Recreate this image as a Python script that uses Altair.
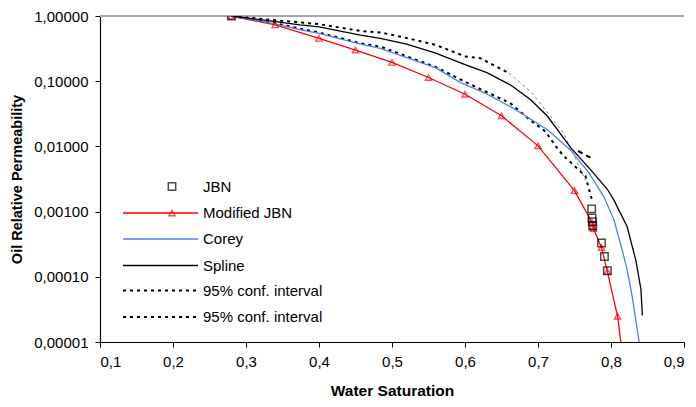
import altair as alt
import pandas as pd

# ---- data ----
jbn_sw = [0.28, 0.7735, 0.774, 0.7745, 0.775, 0.787, 0.791, 0.795]
jbn_kr = [1.0, 0.0011, 0.0008, 0.0007, 0.0006, 0.00033, 0.000205, 0.000124]

mod_sw = [0.28, 0.34, 0.40, 0.45, 0.50, 0.55, 0.60, 0.65, 0.70, 0.75, 0.774, 0.775, 0.776, 0.787, 0.795, 0.809, 0.8135]
mod_kr = [1.0, 0.73, 0.455, 0.30, 0.195, 0.114, 0.063, 0.0295, 0.0102, 0.0021, 0.00068, 0.00060, 0.00055, 0.00028, 0.000121, 0.0000248, 0.00001]
mod_marker = [True] * 16 + [False]

corey_sw = [0.28, 0.33, 0.374, 0.40, 0.457, 0.484, 0.525, 0.56, 0.594, 0.626, 0.667, 0.713, 0.744, 0.77, 0.79, 0.804, 0.816, 0.822, 0.829, 0.8385]
corey_kr = [1.0, 0.80, 0.62, 0.54, 0.37, 0.32, 0.22, 0.16, 0.095, 0.067, 0.038, 0.018, 0.0089, 0.0039, 0.0017, 0.00075, 0.00024, 0.00013, 0.00005, 0.00001]

spline_sw = [0.28, 0.33, 0.374, 0.40, 0.457, 0.484, 0.52, 0.56, 0.60, 0.63, 0.662, 0.69, 0.713, 0.745, 0.772, 0.795, 0.804, 0.822, 0.834, 0.841, 0.843]
spline_kr = [1.0, 0.85, 0.73, 0.68, 0.51, 0.455, 0.37, 0.27, 0.18, 0.135, 0.088, 0.052, 0.029, 0.0095, 0.0044, 0.0022, 0.0015, 0.00059, 0.00018, 0.000064, 0.0000255]

upper_sw = [0.28, 0.33, 0.374, 0.40, 0.457, 0.484, 0.52, 0.56, 0.60, 0.621, 0.66]
upper_kr = [1.0, 0.88, 0.80, 0.75, 0.59, 0.56, 0.46, 0.36, 0.24, 0.225, 0.133]
upper_tail_sw = [0.66, 0.69, 0.717, 0.735, 0.749, 0.76, 0.765]
upper_tail_kr = [0.133, 0.07, 0.029, 0.016, 0.0075, 0.004, 0.003]
upper_end_sw = [0.755, 0.773]
upper_end_kr = [0.0085, 0.0066]

lower_sw = [0.28, 0.33, 0.374, 0.40, 0.457, 0.484, 0.525, 0.56, 0.60, 0.625, 0.662, 0.69, 0.71, 0.726, 0.735, 0.75, 0.765, 0.769, 0.774]
lower_kr = [1.0, 0.82, 0.64, 0.56, 0.38, 0.34, 0.23, 0.165, 0.098, 0.072, 0.046, 0.025, 0.017, 0.0095, 0.0072, 0.005, 0.0035, 0.0024, 0.0015]

x_ticks = [0.1, 0.2, 0.3, 0.4, 0.5, 0.6, 0.7, 0.8, 0.9]
y_ticks = [0.00001, 0.0001, 0.001, 0.01, 0.1, 1.0]

legend_labels = ["JBN", "Modified JBN", "Corey", "Spline", "95% conf. interval", "95% conf. interval"]

FONT = "Liberation Sans"
W, H = 584, 326

xs = alt.Scale(domain=[0.1, 0.9], nice=False, zero=False)
ys = alt.Scale(type="log", domain=[0.00001, 1.0], nice=False)

xax = alt.Axis(values=x_ticks, labelExpr="replace(format(datum.value, '.1f'), '.', ',')",
               title="Water Saturation", grid=False, domainColor="black", tickColor="black",
               tickSize=5, labelFontSize=15, titleFontSize=15.5, labelFont=FONT, titleFont=FONT,
               titleFontWeight="bold", labelColor="black", titleColor="black", labelPadding=7,
               titlePadding=14, domainWidth=1.2)
yax = alt.Axis(values=y_ticks, labelExpr="replace(format(datum.value, '.5f'), '.', ',')",
               title="Oil Relative Permeability", grid=False, domainColor="black", tickColor="black",
               tickSize=5, labelFontSize=15, titleFontSize=14.5, labelFont=FONT, titleFont=FONT,
               titleFontWeight="bold", labelColor="black", titleColor="black", labelPadding=7,
               titlePadding=9, domainWidth=1.2)


def df(sw, kr):
    return pd.DataFrame({"sw": sw, "kr": kr})


def enc(ch, axes=False):
    if axes:
        return ch.encode(x=alt.X("sw:Q", scale=xs, axis=xax), y=alt.Y("kr:Q", scale=ys, axis=yax))
    return ch.encode(x=alt.X("sw:Q", scale=xs), y=alt.Y("kr:Q", scale=ys))


top_rule = alt.Chart(pd.DataFrame({"v": [1.0]})).mark_rule(color="#a6a6a6", strokeWidth=2).encode(
    y=alt.Y("v:Q", scale=ys))

upper = enc(alt.Chart(df(upper_sw, upper_kr)).mark_line(color="black", strokeWidth=2, strokeDash=[3, 4], clip=True))
upper_tail = enc(alt.Chart(df(upper_tail_sw, upper_tail_kr)).mark_line(color="#8c8c8c", strokeWidth=1, strokeDash=[3, 3], clip=True))
upper_end = enc(alt.Chart(df(upper_end_sw, upper_end_kr)).mark_line(color="black", strokeWidth=2, strokeDash=[5, 4], clip=True))
lower = enc(alt.Chart(df(lower_sw, lower_kr)).mark_line(color="black", strokeWidth=2, strokeDash=[3, 4], clip=True))
corey = enc(alt.Chart(df(corey_sw, corey_kr)).mark_line(color="#4f7ff0", strokeWidth=1.3, clip=True))
spline = enc(alt.Chart(df(spline_sw, spline_kr)).mark_line(color="black", strokeWidth=1.3, clip=True))
mod_line = enc(alt.Chart(df(mod_sw, mod_kr)).mark_line(color="#ff0000", strokeWidth=1.3, clip=True), axes=True)
mdf = df(mod_sw, mod_kr)
mdf["m"] = mod_marker
mod_pts = enc(alt.Chart(mdf[mdf["m"]]).mark_point(shape="triangle-up", filled=False, color="#ff0000",
                                                  size=40, strokeWidth=1.3, clip=True))
jbn_pts = enc(alt.Chart(df(jbn_sw, jbn_kr)).mark_point(shape="square", filled=False, color="black",
                                                       size=55, strokeWidth=1.5, clip=True))

# ---- manual legend (pixel positions within plot area) ----
one = pd.DataFrame({"a": [0]})
leg_y = [170.5, 197, 223, 249.5, 274.5, 301]
lx1, lx2, lmk, ltx = 23, 98, 72, 103
leg_layers = []
for i, lab in enumerate(legend_labels):
    yy = leg_y[i]
    if i == 1:
        leg_layers.append(alt.Chart(one).mark_rule(color="#ff0000", strokeWidth=1.3).encode(
            x=alt.value(lx1), x2=alt.value(lx2), y=alt.value(yy)))
        leg_layers.append(alt.Chart(one).mark_point(shape="triangle-up", filled=False, color="#ff0000",
                                                    size=40, strokeWidth=1.3).encode(x=alt.value(lmk), y=alt.value(yy)))
    elif i == 0:
        leg_layers.append(alt.Chart(one).mark_point(shape="square", filled=False, color="black",
                                                    size=55, strokeWidth=1.5).encode(x=alt.value(lmk), y=alt.value(yy)))
    elif i == 2:
        leg_layers.append(alt.Chart(one).mark_rule(color="#4f7ff0", strokeWidth=1.3).encode(
            x=alt.value(lx1), x2=alt.value(lx2), y=alt.value(yy)))
    elif i == 3:
        leg_layers.append(alt.Chart(one).mark_rule(color="black", strokeWidth=1.3).encode(
            x=alt.value(lx1), x2=alt.value(lx2), y=alt.value(yy)))
    else:
        leg_layers.append(alt.Chart(one).mark_rule(color="black", strokeWidth=2, strokeDash=[3, 4]).encode(
            x=alt.value(lx1), x2=alt.value(lx2), y=alt.value(yy)))
    leg_layers.append(alt.Chart(one).mark_text(align="left", baseline="middle", font=FONT, fontSize=15,
                                               color="black").encode(
        x=alt.value(ltx), y=alt.value(yy), text=alt.value(lab)))

chart = alt.layer(mod_line, top_rule, upper, upper_tail, upper_end, lower, corey, spline,
                  mod_pts, jbn_pts, *leg_layers).properties(
    width=W, height=H,
    padding={"left": 92, "top": 8, "right": 4, "bottom": 64},
    autosize="none",
    background="white",
).configure_view(stroke=None)

chart.save("out.html", embed_options={"renderer": "svg", "actions": False})
